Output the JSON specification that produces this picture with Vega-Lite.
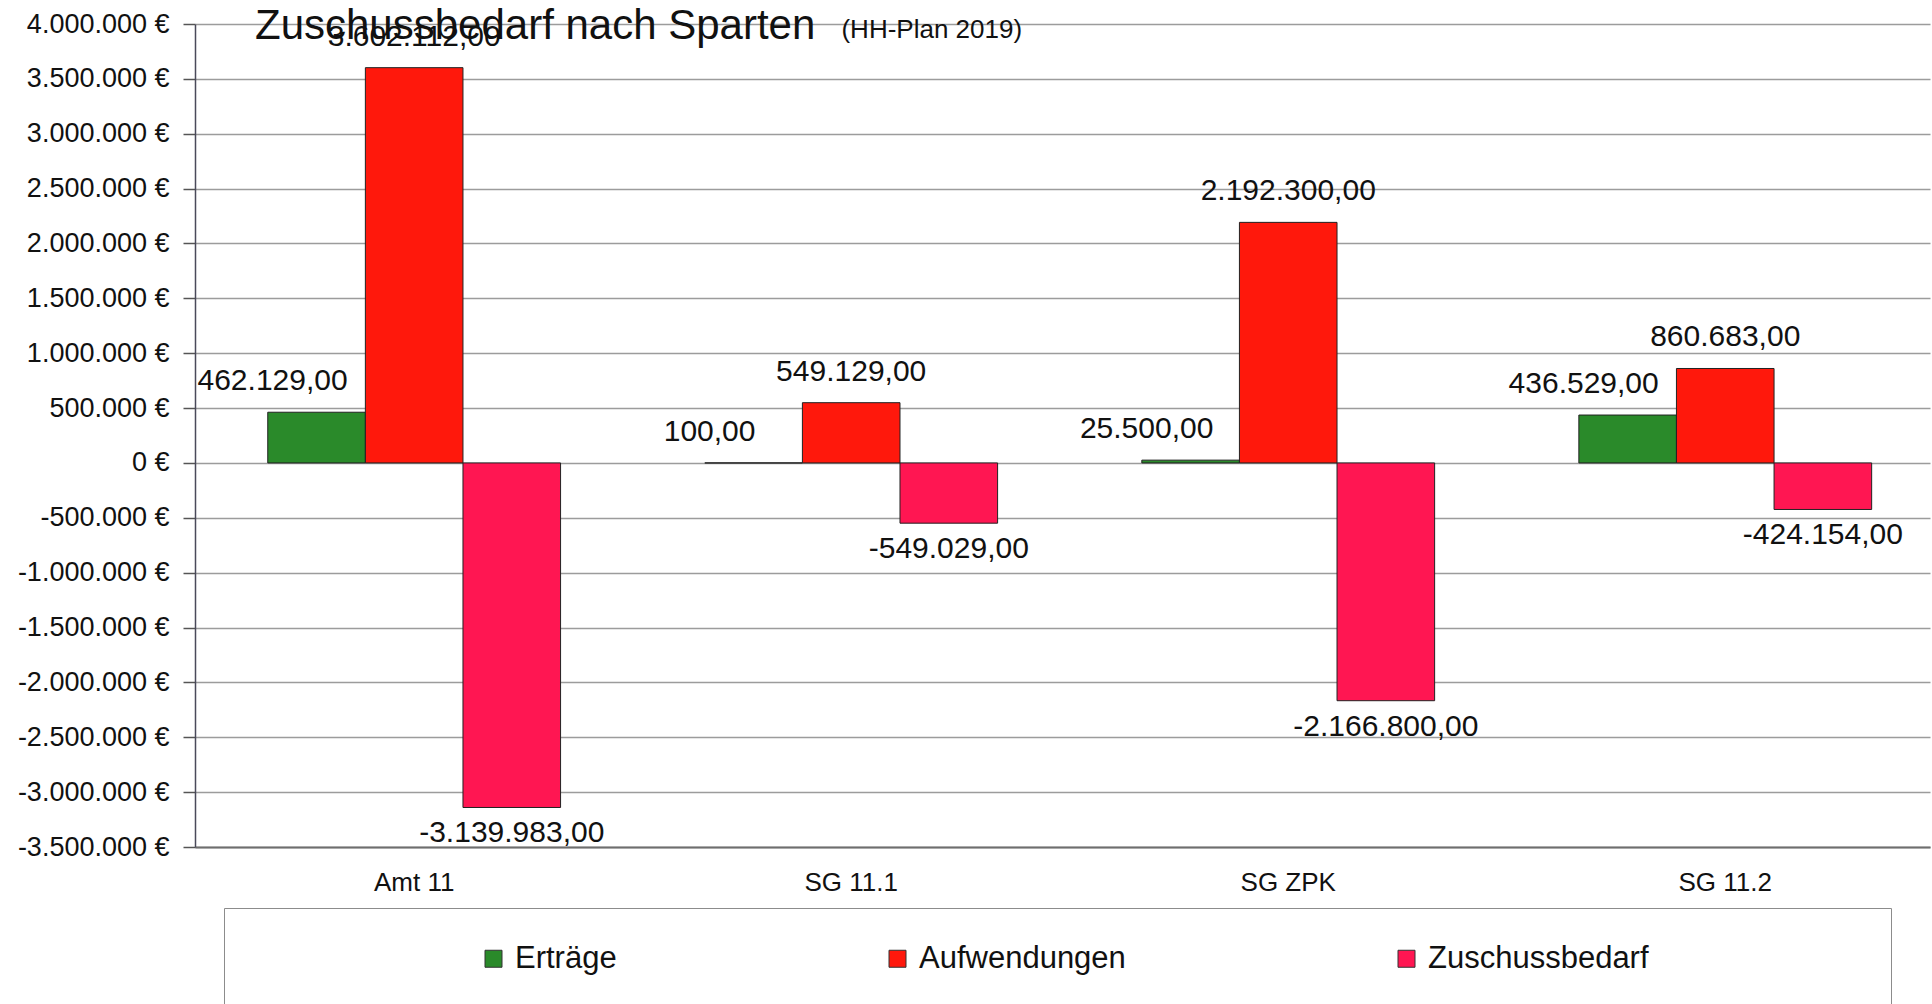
{
  "$schema": "https://vega.github.io/schema/vega-lite/v6.json",
  "width": 1735,
  "height": 823,
  "autosize": {"type": "none"},
  "padding": {"left": 195, "top": 24, "right": 2, "bottom": 157},
  "background": "white",
  "config": {
    "locale": {"number": {"decimal": ",", "thousands": ".", "grouping": [3], "currency": ["", " €"], "minus": "-"}},
    "font": "Liberation Sans",
    "view": {"stroke": null}
  },
  "title": {
    "text": "Zuschussbedarf nach Sparten",
    "subtitle": "\u200b\u2003\u2003\u2003\u2003\u2003\u2003\u2003\u2003\u2003\u2003\u2003\u2003\u2003\u2003\u2003\u2003\u2003\u2003\u2003\u2003\u2003\u2003\u00a0\u00a0(HH-Plan 2019)",
    "anchor": "start",
    "frame": "group",
    "dx": 60,
    "offset": -38,
    "fontSize": 42,
    "fontWeight": "normal",
    "color": "#111111",
    "font": "Liberation Sans",
    "subtitleFont": "Liberation Sans",
    "subtitleFontSize": 26,
    "subtitleColor": "#111111",
    "subtitlePadding": -31
  },
  "data": {
    "values": [
      {"sparte": "Amt 11", "serie": "Erträge", "wert": 462129},
      {"sparte": "Amt 11", "serie": "Aufwendungen", "wert": 3602112},
      {"sparte": "Amt 11", "serie": "Zuschussbedarf", "wert": -3139983},
      {"sparte": "SG 11.1", "serie": "Erträge", "wert": 100},
      {"sparte": "SG 11.1", "serie": "Aufwendungen", "wert": 549129},
      {"sparte": "SG 11.1", "serie": "Zuschussbedarf", "wert": -549029},
      {"sparte": "SG ZPK", "serie": "Erträge", "wert": 25500},
      {"sparte": "SG ZPK", "serie": "Aufwendungen", "wert": 2192300},
      {"sparte": "SG ZPK", "serie": "Zuschussbedarf", "wert": -2166800},
      {"sparte": "SG 11.2", "serie": "Erträge", "wert": 436529},
      {"sparte": "SG 11.2", "serie": "Aufwendungen", "wert": 860683},
      {"sparte": "SG 11.2", "serie": "Zuschussbedarf", "wert": -424154}
    ]
  },
  "encoding": {
    "x": {
      "field": "sparte",
      "type": "nominal",
      "sort": ["Amt 11", "SG 11.1", "SG ZPK", "SG 11.2"],
      "scale": {"paddingInner": 0.33, "paddingOuter": 0.15, "align": 0.555},
      "axis": {
        "title": null,
        "domain": true,
        "domainColor": "#6e6e6e",
        "domainWidth": 2,
        "ticks": false,
        "labelAngle": 0,
        "labelFontSize": 26,
        "labelColor": "#111111",
        "labelPadding": 22,
        "grid": false
      }
    },
    "xOffset": {
      "field": "serie",
      "type": "nominal",
      "sort": ["Erträge", "Aufwendungen", "Zuschussbedarf"],
      "scale": {"domain": ["Erträge", "Aufwendungen", "Zuschussbedarf"], "paddingInner": 0, "paddingOuter": 0}
    },
    "y": {
      "field": "wert",
      "type": "quantitative",
      "scale": {"domain": [-3500000, 4000000], "nice": false},
      "axis": {
        "title": null,
        "values": [-3500000, -3000000, -2500000, -2000000, -1500000, -1000000, -500000, 0, 500000, 1000000, 1500000, 2000000, 2500000, 3000000, 3500000, 4000000],
        "format": "$,.0f",
        "labelFontSize": 27,
        "labelColor": "#111111",
        "labelPadding": 14,
        "tickSize": 12,
        "tickColor": "#555555",
        "tickWidth": 1.5,
        "domainColor": "#4a4a5a",
        "domainWidth": 1.5,
        "gridColor": "#9c9c9c",
        "gridWidth": 1.5
      }
    }
  },
  "layer": [
    {
      "mark": {"type": "bar", "stroke": "#222222", "strokeWidth": 1},
      "encoding": {
        "color": {
          "field": "serie",
          "type": "nominal",
          "scale": {"domain": ["Erträge", "Aufwendungen", "Zuschussbedarf"], "range": ["#2A8A2A", "#FF180C", "#FF1652"]},
          "legend": {
            "orient": "none",
            "legendX": 29,
            "legendY": 884,
            "direction": "horizontal",
            "title": "\u00a0",
            "titleOrient": "left",
            "titleFontSize": 31,
            "titlePadding": 219,
            "padding": 35,
            "strokeColor": "#8c8c8c",
            "fillColor": "white",
            "symbolType": "square",
            "symbolSize": 289,
            "symbolStrokeColor": "#333333",
            "symbolStrokeWidth": 1,
            "labelFontSize": 31,
            "labelColor": "#111111",
            "labelOffset": 6,
            "labelLimit": 600,
            "columnPadding": 265,
            "labelExpr": "datum.label == 'Zuschussbedarf' ? datum.label + '\u00a0\u00a0\u00a0\u00a0\u00a0\u00a0\u00a0\u00a0\u00a0\u00a0\u00a0\u00a0\u00a0\u00a0\u00a0\u00a0\u00a0\u00a0\u00a0\u00a0\u00a0\u00a0\u00a0\u00a0\u200b' : datum.label"
          }
        }
      }
    },
    {
      "transform": [{"filter": "datum.serie === 'Erträge'"}],
      "mark": {"type": "text", "baseline": "middle", "dx": -44, "dy": -31, "fontSize": 30, "color": "#111111"},
      "encoding": {"text": {"field": "wert", "type": "quantitative", "format": ",.2f"}}
    },
    {
      "transform": [{"filter": "datum.serie === 'Aufwendungen'"}],
      "mark": {"type": "text", "baseline": "middle", "dy": -31, "fontSize": 30, "color": "#111111"},
      "encoding": {"text": {"field": "wert", "type": "quantitative", "format": ",.2f"}}
    },
    {
      "transform": [{"filter": "datum.serie === 'Zuschussbedarf'"}],
      "mark": {"type": "text", "baseline": "middle", "dy": 26, "fontSize": 30, "color": "#111111"},
      "encoding": {"text": {"field": "wert", "type": "quantitative", "format": ",.2f"}}
    }
  ]
}
